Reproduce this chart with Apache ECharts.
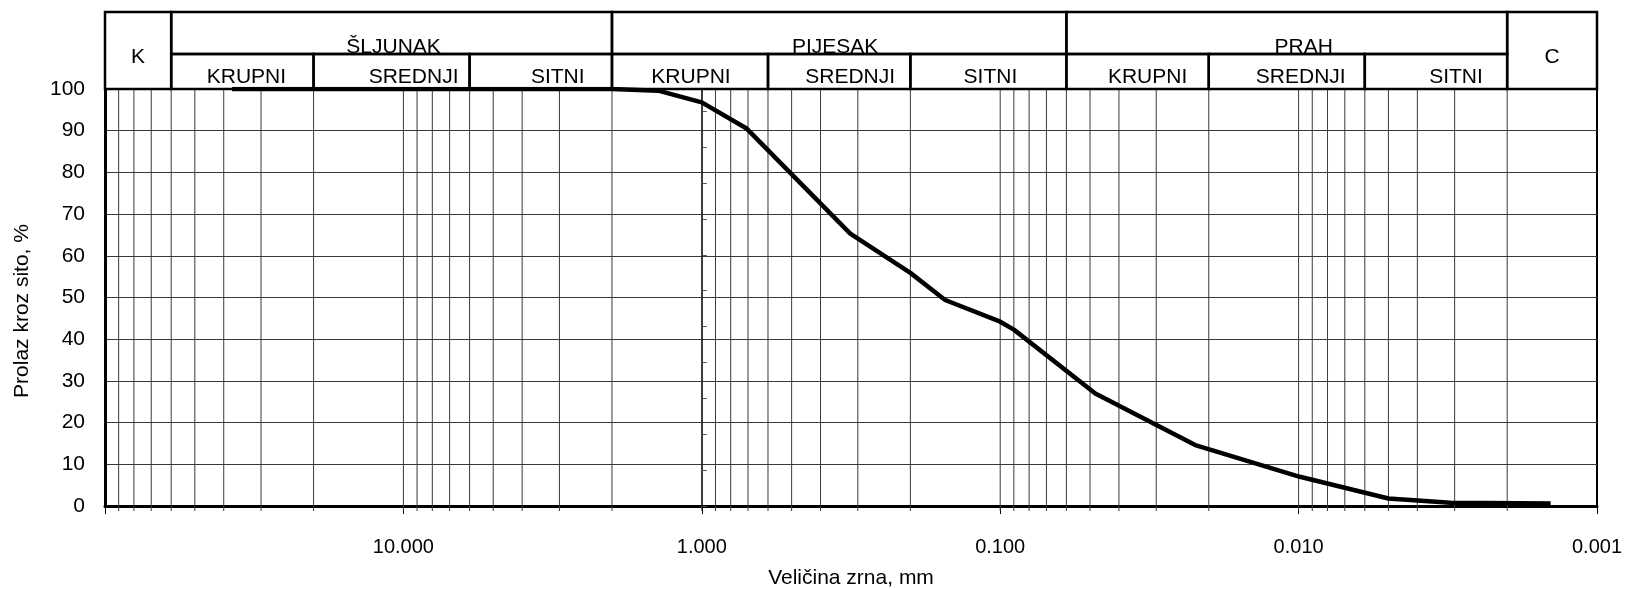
<!DOCTYPE html>
<html>
<head>
<meta charset="utf-8">
<script src="https://cdn.jsdelivr.net/npm/echarts@6/dist/echarts.min.js"></script>
<style>
html, body { margin: 0; padding: 0; background: #fff; }
#chart { width: 1625px; height: 589px; }
</style>
</head>
<body>
<div id="chart"></div>
<script>
// granulometrijska krivulja - ocitano s dijagrama
var sizesMm = [37.5, 2.0, 1.4, 1.0, 0.71, 0.318, 0.2, 0.153, 0.1, 0.09, 0.048, 0.0222, 0.0099, 0.005, 0.0031, 0.00143];
var passingPct = [100, 100, 99.6, 96.8, 90.6, 65.3, 55.9, 49.4, 44.2, 42.3, 27.0, 14.6, 7.0, 1.8, 0.8, 0.6];

// log mreza (dekade i mantise)
var decades = [10, 1, 0.1, 0.01, 0.001];
var mantissas = [1, 2, 3, 4, 5, 6, 7, 8, 9];

// zaglavlje - frakcije
var fractionNames = ['K', 'ŠLJUNAK', 'PIJESAK', 'PRAH', 'C'];
var fractionBounds = [[100, 60], [60, 2], [2, 0.06], [0.06, 0.002], [0.002, 0.001]];
var subNames = ['KRUPNI', 'SREDNJI', 'SITNI', 'KRUPNI', 'SREDNJI', 'SITNI', 'KRUPNI', 'SREDNJI', 'SITNI'];
var subBounds = [[60, 20], [20, 6], [6, 2], [2, 0.6], [0.6, 0.2], [0.2, 0.06], [0.06, 0.02], [0.02, 0.006], [0.006, 0.002]];

// pomak natpisa u zaglavlju (px), kao u izvorniku
var fractionShift = [0, 2, -4, 17, 0];
var subShift = [4, 22, 17, 1, 11, 2, 10, 14, 20];

var FONT = '"Liberation Sans", Arial, sans-serif';
var gridLeft = 105, gridRight = 28;
var HEAD_TOP = 2.2;

var chart = echarts.init(document.getElementById('chart'));

var curve = sizesMm.map(function (d, i) { return [d, passingPct[i]]; });

var gridLines = [];
decades.forEach(function (dec) {
    mantissas.forEach(function (m) {
        var v = m * dec;
        if (v < 99 && v > 0.0011) gridLines.push([v, 0]);
    });
});

// celije zaglavlja: [od, do, donji red, gornji red]
var headerCells = [];
var headerTexts = [];
var headerShift = [];
fractionNames.forEach(function (n, i) {
    var full = (n === 'K' || n === 'C');
    headerCells.push([fractionBounds[i][0], fractionBounds[i][1], full ? 0 : 1, HEAD_TOP]);
    headerTexts.push(n);
    headerShift.push(fractionShift[i]);
});
subNames.forEach(function (n, i) {
    headerCells.push([subBounds[i][0], subBounds[i][1], 0, 1]);
    headerTexts.push(n);
    headerShift.push(subShift[i]);
});

var plotWidth = 1625 - gridLeft - gridRight;
var oneMmOffset = plotWidth * 2 / 5;

var option = {
    animation: false,
    textStyle: { fontFamily: FONT },
    grid: [
        { left: gridLeft, right: gridRight, top: 89, bottom: 83, containLabel: false, outerBoundsMode: 'none', show: true, borderColor: '#000', borderWidth: 2 },
        { left: gridLeft, right: gridRight, top: 12, bottom: 500, containLabel: false, outerBoundsMode: 'none' }
    ],
    xAxis: [
        {
            gridIndex: 0,
            type: 'log',
            logBase: 10,
            min: 0.001,
            max: 100,
            inverse: true,
            name: 'Veličina zrna, mm',
            nameLocation: 'middle',
            nameGap: 62,
            nameTextStyle: { color: '#000', fontSize: 21, fontFamily: FONT },
            axisLine: { show: true, onZero: false, lineStyle: { color: '#000', width: 3 } },
            axisTick: { show: true, length: 8, lineStyle: { color: '#000' } },
            axisLabel: {
                color: '#000', fontSize: 20, fontFamily: FONT, margin: 31,
                formatter: function (v) { return v > 50 ? '' : v.toFixed(3); }
            },
            splitLine: { show: false }
        },
        {
            gridIndex: 1,
            type: 'log',
            logBase: 10,
            min: 0.001,
            max: 100,
            inverse: true,
            show: false
        }
    ],
    yAxis: [
        {
            gridIndex: 0,
            type: 'value',
            min: 0,
            max: 100,
            interval: 10,
            name: 'Prolaz kroz sito, %',
            nameLocation: 'middle',
            nameGap: 72,
            nameTextStyle: { color: '#000', fontSize: 21, fontFamily: FONT, padding: [0, 27, 0, 0] },
            axisLine: { show: true, lineStyle: { color: '#000', width: 3 } },
            axisTick: { show: false },
            axisLabel: { color: '#000', fontSize: 21, fontFamily: FONT, margin: 20 },
            splitLine: { show: true, lineStyle: { color: '#3a3a3a', width: 1 } }
        },
        {
            // pomocna os na 1 mm
            gridIndex: 0,
            type: 'value',
            min: 0,
            max: 116.2,
            interval: 10,
            position: 'left',
            offset: -oneMmOffset,
            axisLine: { show: true, onZero: false, lineStyle: { color: '#000', width: 1.5 } },
            axisTick: { show: true, inside: true, length: 5, lineStyle: { color: '#555' } },
            axisLabel: { show: false },
            splitLine: { show: false }
        },
        {
            gridIndex: 1,
            type: 'value',
            min: 0,
            max: HEAD_TOP,
            show: false
        }
    ],
    series: [
        {
            type: 'custom',
            xAxisIndex: 0,
            yAxisIndex: 0,
            silent: true,
            z: 1,
            data: gridLines,
            renderItem: function (params, api) {
                var v = api.value(0);
                var top = api.coord([v, 100]);
                var bot = api.coord([v, 0]);
                return {
                    type: 'group',
                    children: [
                        { type: 'line', shape: { x1: top[0], y1: top[1], x2: bot[0], y2: bot[1] }, style: { stroke: '#3a3a3a', lineWidth: 1 } },
                        { type: 'line', shape: { x1: bot[0], y1: bot[1], x2: bot[0], y2: bot[1] + 5 }, style: { stroke: '#3a3a3a', lineWidth: 1 } }
                    ]
                };
            }
        },
        {
            type: 'line',
            xAxisIndex: 0,
            yAxisIndex: 0,
            data: curve,
            symbol: 'none',
            z: 5,
            lineStyle: { color: '#000', width: 4.5 }
        },
        {
            type: 'custom',
            xAxisIndex: 1,
            yAxisIndex: 2,
            silent: true,
            data: headerCells,
            renderItem: function (params, api) {
                var lt = api.coord([api.value(0), api.value(3)]);
                var rb = api.coord([api.value(1), api.value(2)]);
                var x = Math.min(lt[0], rb[0]);
                var w = Math.abs(rb[0] - lt[0]);
                var y = Math.min(lt[1], rb[1]);
                var h = Math.abs(rb[1] - lt[1]);
                var lo = api.value(2);
                var ty, va;
                if (lo === 0 && h > 60) { ty = y + h / 2 + 7; va = 'middle'; }
                else if (lo === 1) { ty = y + h + 4; va = 'bottom'; }
                else { ty = y + h - 1; va = 'bottom'; }
                return {
                    type: 'group',
                    children: [
                        { type: 'rect', shape: { x: x, y: y, width: w, height: h }, style: { fill: 'none', stroke: '#000', lineWidth: 2.5 } },
                        { type: 'text', z2: 10, style: { text: headerTexts[params.dataIndex], x: x + w / 2 + headerShift[params.dataIndex], y: ty, align: 'center', verticalAlign: va, fontSize: 21, fontFamily: FONT, fill: '#000' } }
                    ]
                };
            }
        }
    ]
};

chart.setOption(option);
</script>
</body>
</html>
